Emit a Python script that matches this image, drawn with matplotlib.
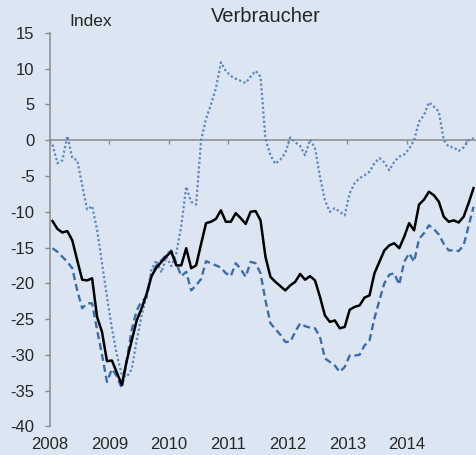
import numpy as np
import matplotlib
matplotlib.use("Agg")
import matplotlib.pyplot as plt

plt.rcParams['font.family'] = ['Liberation Sans', 'DejaVu Sans']

# Monthly series, Jan 2008 .. Feb 2015
start_year = 2008
solid_black = [
    -11.3, -12.4, -12.9, -12.7, -14.0, -16.8, -19.5, -19.6, -19.3, -24.7,
    -26.8, -30.9, -30.8, -32.5, -34.2, -30.8, -28.0, -25.2, -23.5, -21.5,
    -19.0, -17.8, -17.0, -16.2, -15.6, -17.5, -17.5, -15.1, -17.9, -17.5,
    -14.5, -11.6, -11.4, -11.0, -9.8, -11.4, -11.4, -10.2, -10.9, -11.7,
    -10.0, -9.9, -11.2, -16.3, -19.1, -19.8, -20.4, -21.0, -20.3, -19.8,
    -18.7, -19.5, -19.0, -19.6, -21.9, -24.5, -25.4, -25.2, -26.3, -26.1,
    -23.7, -23.3, -23.1, -22.0, -21.7, -18.6, -17.0, -15.4, -14.7, -14.4,
    -15.1, -13.5, -11.6, -12.6, -9.0, -8.3, -7.2, -7.7, -8.6, -10.7,
    -11.4, -11.2, -11.5, -10.7, -8.8, -6.7,
]
dashed_blue = [
    -15.1, -15.6, -16.3, -17.0, -17.9, -21.0, -23.5, -22.8, -22.8, -26.5,
    -30.0, -33.8, -32.0, -33.0, -34.7, -30.8, -26.5, -23.8, -22.5, -22.0,
    -18.6, -17.5, -16.8, -16.0, -15.4, -17.2, -19.0, -18.4, -21.0, -20.3,
    -19.4, -16.9, -17.2, -17.5, -17.8, -18.6, -19.0, -17.2, -18.0, -19.1,
    -17.0, -17.2, -18.6, -22.4, -25.6, -26.4, -27.2, -28.2, -28.2, -26.8,
    -25.6, -26.0, -26.2, -26.3, -27.5, -30.5, -31.0, -31.5, -32.4, -31.7,
    -30.1, -30.1, -30.0, -28.7, -28.0, -24.9, -22.4, -20.0, -18.8, -18.6,
    -20.2, -17.0, -15.8, -17.0, -13.8, -13.0, -11.9, -12.4, -13.2, -14.5,
    -15.4, -15.4, -15.5, -14.7, -12.0, -9.3,
]
dotted_blue = [
    -0.6, -3.2, -2.8, 0.6, -2.5, -2.8, -6.3, -9.7, -9.2, -12.5,
    -17.2, -21.9, -26.3, -30.0, -32.8, -33.1, -32.0, -28.0, -24.5, -21.8,
    -18.0, -16.8, -18.5, -16.3, -17.6, -15.8, -12.0, -6.5, -8.6, -9.0,
    0.0, 3.0, 5.0, 7.3, 10.9, 9.7, 9.0, 8.6, 8.3, 8.0,
    8.9, 9.7, 8.9, 0.2, -2.1, -3.3, -2.7, -1.8, 0.4, -0.3,
    -0.8, -2.1, 0.1, -1.1, -5.1, -8.4, -10.0, -9.5, -10.0, -10.5,
    -7.4, -6.0, -5.3, -4.9, -4.4, -3.2, -2.5, -3.1, -4.2, -3.0,
    -2.3, -2.0, -1.2, 0.0, 2.6, 3.5, 5.3, 4.7, 4.0, 0.0,
    -0.9, -1.0, -1.5, -1.0, 0.0, 0.3,
]
year_ticks = [2008, 2009, 2010, 2011, 2012, 2013, 2014]
y_ticks = [15, 10, 5, 0, -5, -10, -15, -20, -25, -30, -35, -40]

n = len(solid_black)
x = start_year + (np.arange(n) + 0.5) / 12.0

bg = '#dce6f2'
txt = '#262626'
axis_gray = '#8a8a8a'

fig = plt.figure(figsize=(4.76, 4.55), dpi=100, facecolor=bg)
ax = fig.add_axes([50 / 476, 0.0631, 1 - 50 / 476, 0.9275 - 0.0631])
ax.set_facecolor(bg)

ax.plot(x, dashed_blue, color='#3e6ca8', lw=1.7, linestyle=(0, (3, 1.7)), zorder=3)
ax.plot(x, dotted_blue, color='#5a86c0', lw=1.6, linestyle=(0, (1, 1.1)), zorder=4)
ax.plot(x, solid_black, color='#000000', lw=1.8, zorder=5)

ax.set_xlim(2008, 2015 + 2 / 12)
ax.set_ylim(-40, 15)

for s in ['top', 'right']:
    ax.spines[s].set_visible(False)
ax.spines['left'].set_color(axis_gray)
ax.spines['left'].set_linewidth(1.1)
ax.spines['bottom'].set_position(('data', 0))
ax.spines['bottom'].set_color(axis_gray)
ax.spines['bottom'].set_linewidth(1.1)

ax.set_yticks(y_ticks)
ax.set_yticklabels([str(v) for v in y_ticks])
ax.tick_params(axis='y', direction='out', length=3.6, width=1.0, color=axis_gray,
               labelsize=12, labelcolor=txt, pad=7.5)

ax.set_xticks(year_ticks + [2015])
ax.tick_params(axis='x', direction='out', length=3.2, width=1.0, color=axis_gray,
               labelbottom=False)

sec = ax.secondary_xaxis('bottom')
sec.set_xticks(year_ticks)
sec.set_xticklabels([str(v) for v in year_ticks])
sec.tick_params(length=0, labelsize=12, labelcolor=txt, pad=8.0)
sec.spines['bottom'].set_visible(False)

fig.text(266 / 476, 1 - 17 / 455, 'Verbraucher', ha='center', va='center',
         fontsize=14.5, color=txt)
fig.text(91 / 476, 1 - 21 / 455, 'Index', ha='center', va='center',
         fontsize=12.5, color=txt)

fig.savefig('out.png', dpi=100, facecolor=bg)
